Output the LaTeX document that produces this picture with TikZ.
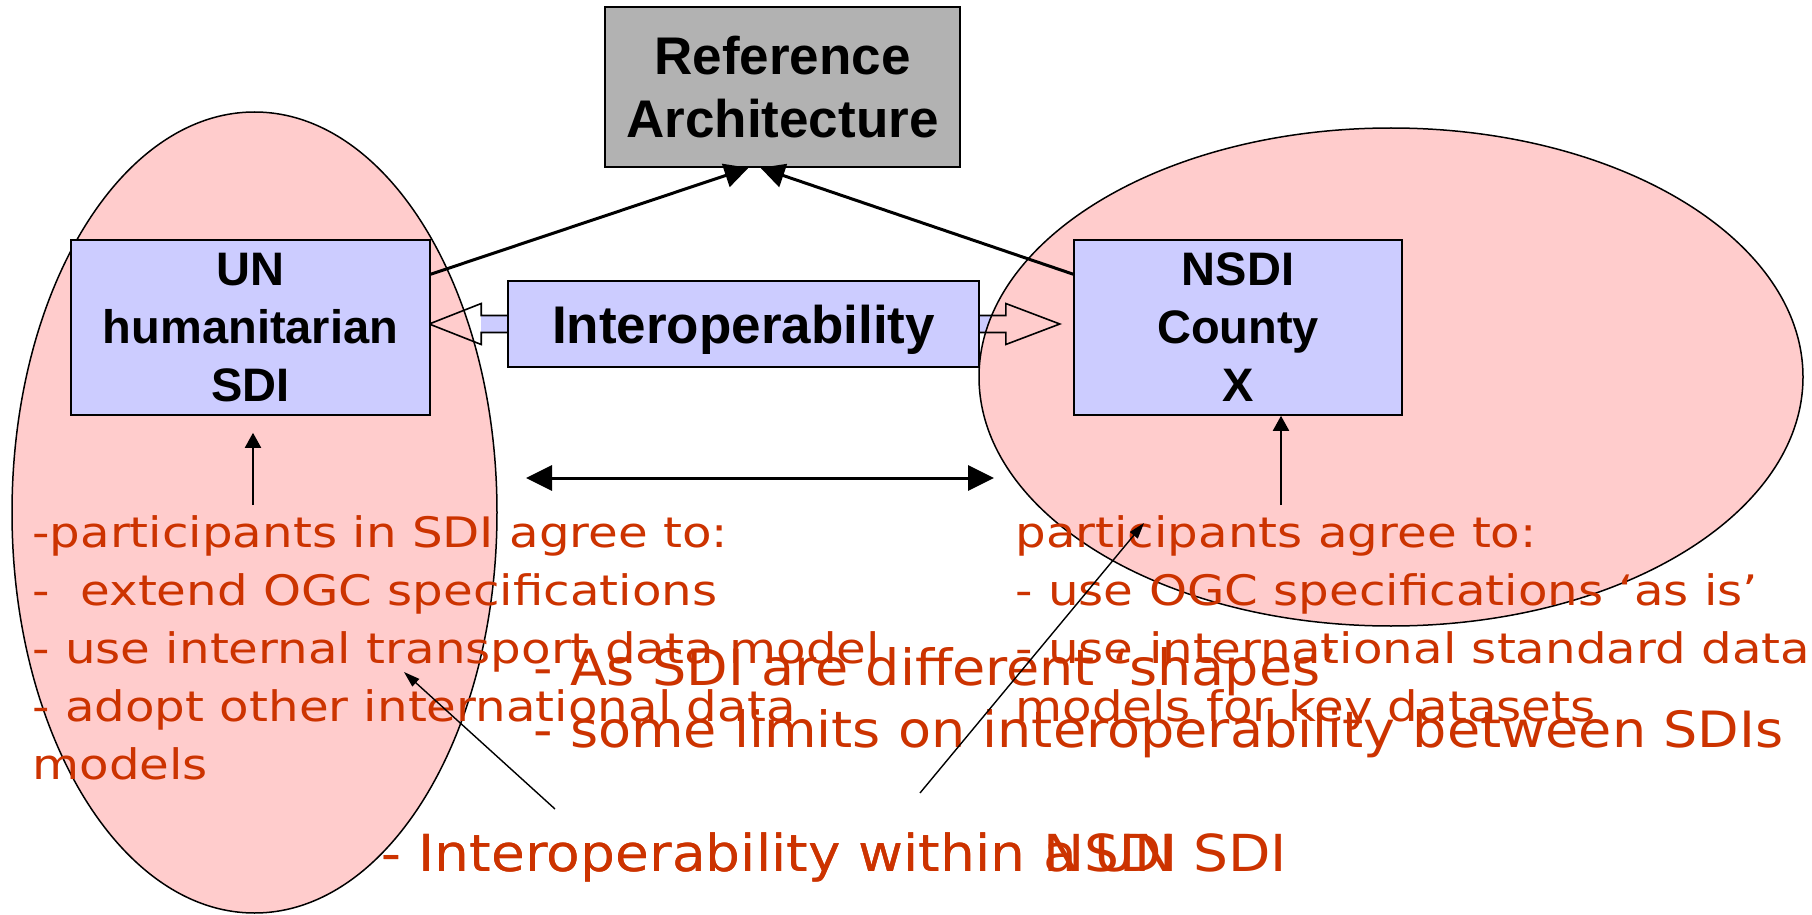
\documentclass[tikz,border=0pt]{standalone}
\usepackage{fontspec}
\setmainfont{Liberation Sans}
\newfontfamily\notefont[FakeStretch=1.15]{DejaVu Sans}
\newfontfamily\bignotefont[FakeStretch=1.08]{DejaVu Sans}
\usepackage{tikz}
\usetikzlibrary{positioning, arrows.meta, calc}

\definecolor{boxblue}{HTML}{CCCCFF}
\definecolor{blobpink}{HTML}{FFCCCC}
\definecolor{refgray}{HTML}{B2B2B2}
\definecolor{notered}{HTML}{CC3300}

\begin{document}
\begin{tikzpicture}[x=0.5pt, y=-0.5pt,
    sdibox/.style={rectangle, draw=black, fill=boxblue, line width=0.8pt, inner sep=0pt,
        align=center, font=\fontsize{23.5}{29}\selectfont\bfseries, minimum height=87.5pt},
    blob/.style={draw=black, fill=blobpink, line width=0.75pt},
    note/.style={anchor=base west, align=left, inner sep=0pt, text=notered},
    bignote/.style={note, font=\bignotefont\fontsize{25}{31}\selectfont},
    smallnote/.style={note, font=\notefont\fontsize{21}{29}\selectfont},
    fatarrow/.style={line width=1.5pt, -{Triangle[length=12pt, width=12pt]}},
    thinarrow/.style={line width=0.7pt, -{Triangle[length=8pt, width=5pt]}},
    uparrow/.style={line width=1pt, -{Triangle[length=7.5pt, width=8pt]}}
]
\useasboundingbox (0,0) rectangle (1812,915);

% interoperability block arrow
\node[sdibox, font=\fontsize{26.5}{31}\selectfont\bfseries, minimum width=235.5pt,
      minimum height=43pt, text depth=0pt](interop) at (743.5,324) {Interoperability};
\fill[boxblue] ([yshift=4.25pt]interop.west) rectangle ++(-26,17);
\fill[boxblue] ([yshift=4.25pt]interop.east) rectangle ++(26,17);

% the two SDIs
\draw[blob] (254.5,512.5) ellipse [x radius=242.5, y radius=400.5];
\draw[blob] (1391,377) ellipse [x radius=412, y radius=249];

\draw[line width=0.8pt] ([yshift=4.25pt]interop.west) -- ++(-26,0) -- ++(0,-12)
    -- ++(-52,20.5) -- ++(52,20.5) -- ++(0,-12) -- ++(26,0);
\draw[line width=0.8pt] ([yshift=4.25pt]interop.east) -- ++(26,0) -- ++(0,-12)
    -- ++(54,20.5) -- ++(-54,20.5) -- ++(0,-12) -- ++(-26,0);

\node[sdibox, fill=refgray, font=\fontsize{26.5}{31.5}\selectfont\bfseries,
      minimum width=177.5pt, minimum height=80pt](ref) at (782.5,87) {Reference\\Architecture};
\node[sdibox, minimum width=179.5pt](un) at (250.5,327.5) {UN\\humanitarian\\SDI};
\node[sdibox, minimum width=164pt](nsdi) at (1238,327.5) {NSDI\\County\\X};

\draw[fatarrow] ([yshift=-17.5pt]un.north east) -- ([xshift=-17pt]ref.south);
\draw[fatarrow] ([yshift=-17.5pt]nsdi.north west) -- ([xshift=-11pt]ref.south);

\coordinate (gapL) at (526,478);
\coordinate (gapR) at (994,478);
\draw[line width=1.5pt, {Triangle[length=13pt, width=12.5pt]}-{Triangle[length=13pt, width=12.5pt]}] (gapL) -- (gapR);

% notes
\node[smallnote](unnote) at (32,779) {-participants in SDI agree to:\\-~ extend OGC specifications\\- use internal transport data model\\- adopt other international data\\models};
\node[smallnote](nsdinote) at (1015,721) {participants agree to:\\- use OGC specifications ‘as is’\\- use international standard data\\models for key datasets};
\node[bignote](shapes) at (533,747) {- As SDI are different ‘shapes’\\- some limits on interoperability between SDIs};
\node[bignote, font=\bignotefont\fontsize{25.5}{31}\selectfont](within) at (381,871) {- Interoperability within a UN SDI};
\node[bignote, font=\bignotefont\fontsize{25.5}{31}\selectfont](withinN) at (381,871) {- Interoperability within NSDI};

\coordinate (unfoot) at (253,505);
\coordinate (nsdifoot) at (1281,505);
\draw[uparrow, shorten >=8.5pt] (unfoot) -- (unfoot |- un.south);
\draw[uparrow] (nsdifoot) -- (nsdifoot |- nsdi.south);

\coordinate (leftfrom) at (555,809);
\coordinate (leftto) at (404,672);
\coordinate (rightfrom) at (920,793);
\coordinate (rightto) at (1144,523);
\draw[thinarrow] (leftfrom) -- (leftto);
\draw[thinarrow] (rightfrom) -- (rightto);
\end{tikzpicture}
\end{document}
